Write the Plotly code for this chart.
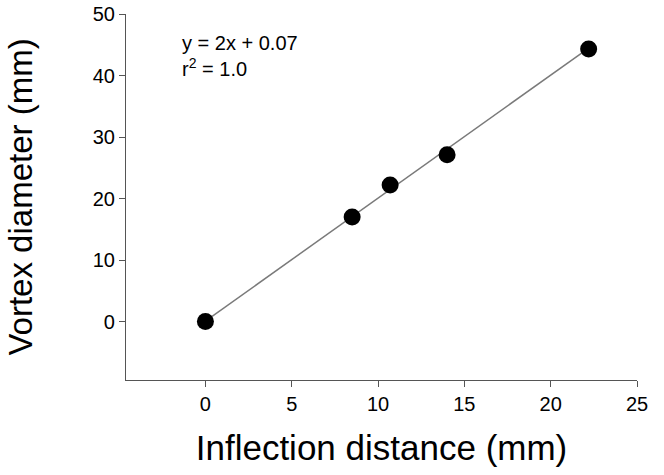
import plotly.graph_objects as go

# Data
inflection_distance = [0.0, 8.5, 10.7, 14.0, 22.2]
vortex_diameter = [0.0, 17.0, 22.2, 27.1, 44.3]
fit_slope = 2.0
fit_intercept = 0.07
fit_x = [0.0, 22.2]
fit_y = [fit_slope * v + fit_intercept for v in fit_x]
x_ticks = [0, 5, 10, 15, 20, 25]
y_ticks = [0, 10, 20, 30, 40, 50]

font_family = "Liberation Sans, Arial, sans-serif"

fig = go.Figure()
fig.add_trace(go.Scatter(x=fit_x, y=fit_y, mode="lines",
                         line=dict(color="#7a7a7a", width=1.5),
                         showlegend=False, hoverinfo="skip"))
fig.add_trace(go.Scatter(x=inflection_distance, y=vortex_diameter, mode="markers",
                         marker=dict(color="black", size=17),
                         showlegend=False))

fig.add_annotation(text="y = 2x + 0.07<br>r<sup>2</sup> = 1.0",
                   xref="paper", yref="paper", x=0.105, y=0.957,
                   xanchor="left", yanchor="top", align="left", showarrow=False,
                   font=dict(family=font_family, size=20, color="black"))

axis_common = dict(showgrid=False, zeroline=False, showline=True, automargin=False,
                   linecolor="#555555", linewidth=1.2, ticks="outside",
                   ticklen=6, tickcolor="#555555", tickwidth=1.2,
                   ticklabeloverflow="allow",
                   tickfont=dict(family=font_family, size=20, color="black"))

fig.update_xaxes(range=[-4.6, 25], tickvals=x_ticks,
                 title=dict(text="Inflection distance (mm)",
                            font=dict(family=font_family, size=35, color="black"),
                            standoff=21),
                 **axis_common)
fig.update_yaxes(range=[-9.5, 50], tickvals=y_ticks,
                 title=dict(text="Vortex diameter (mm)",
                            font=dict(family=font_family, size=33, color="black"),
                            standoff=50),
                 **axis_common)

fig.update_layout(width=664, height=475,
                  margin=dict(l=126, r=27, t=14, b=95),
                  paper_bgcolor="white", plot_bgcolor="white")

fig.write_html("out.html", config={"displayModeBar": False},
               post_script="document.body.style.margin='0';")
